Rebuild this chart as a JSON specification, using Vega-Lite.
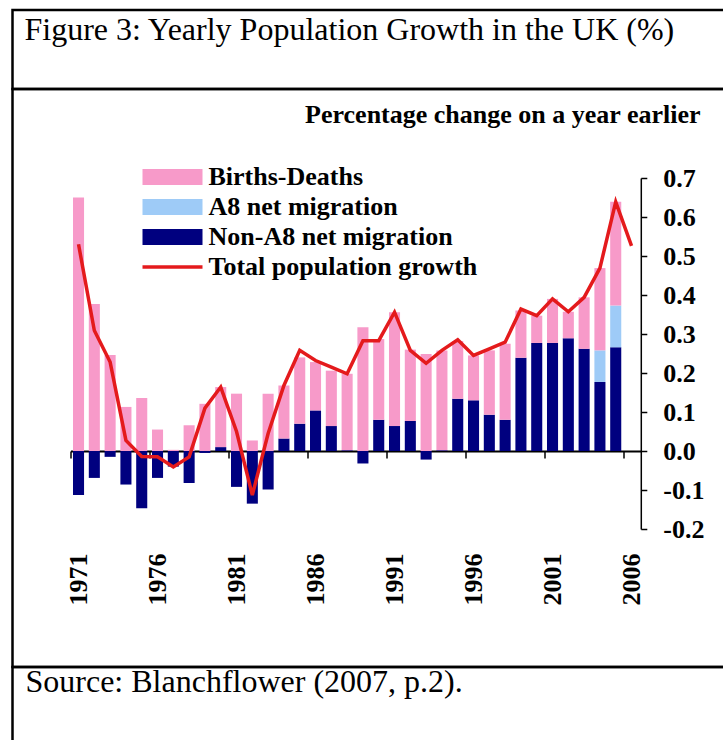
{
  "$schema": "https://vega.github.io/schema/vega-lite/v6.json",
  "padding": {"left": 8.5, "top": 6, "right": 0, "bottom": 0},
  "background": "white",
  "spacing": 0,
  "bounds": "flush",
  "config": {
    "view": {"stroke": "black", "strokeWidth": 2.5},
    "font": "Liberation Serif"
  },
  "resolve": {
    "scale": {"fill": "independent", "stroke": "independent", "x": "independent", "y": "independent"},
    "legend": {"fill": "independent", "stroke": "independent"}
  },
  "datasets": {
    "bars": [
      {"year": 1971, "component": "Non-A8 net migration", "ord": 1, "value": -0.113},
      {"year": 1971, "component": "Births-Deaths", "ord": 3, "value": 0.65},
      {"year": 1972, "component": "Non-A8 net migration", "ord": 1, "value": -0.069},
      {"year": 1972, "component": "Births-Deaths", "ord": 3, "value": 0.377},
      {"year": 1973, "component": "Non-A8 net migration", "ord": 1, "value": -0.015},
      {"year": 1973, "component": "Births-Deaths", "ord": 3, "value": 0.246},
      {"year": 1974, "component": "Non-A8 net migration", "ord": 1, "value": -0.086},
      {"year": 1974, "component": "Births-Deaths", "ord": 3, "value": 0.113},
      {"year": 1975, "component": "Non-A8 net migration", "ord": 1, "value": -0.147},
      {"year": 1975, "component": "Births-Deaths", "ord": 3, "value": 0.136},
      {"year": 1976, "component": "Non-A8 net migration", "ord": 1, "value": -0.069},
      {"year": 1976, "component": "Births-Deaths", "ord": 3, "value": 0.055},
      {"year": 1977, "component": "Non-A8 net migration", "ord": 1, "value": -0.04},
      {"year": 1977, "component": "Births-Deaths", "ord": 3, "value": 0.003},
      {"year": 1978, "component": "Non-A8 net migration", "ord": 1, "value": -0.082},
      {"year": 1978, "component": "Births-Deaths", "ord": 3, "value": 0.066},
      {"year": 1979, "component": "Non-A8 net migration", "ord": 1, "value": -0.005},
      {"year": 1979, "component": "Births-Deaths", "ord": 3, "value": 0.121},
      {"year": 1980, "component": "Non-A8 net migration", "ord": 1, "value": 0.01},
      {"year": 1980, "component": "Births-Deaths", "ord": 3, "value": 0.154},
      {"year": 1981, "component": "Non-A8 net migration", "ord": 1, "value": -0.092},
      {"year": 1981, "component": "Births-Deaths", "ord": 3, "value": 0.147},
      {"year": 1982, "component": "Non-A8 net migration", "ord": 1, "value": -0.135},
      {"year": 1982, "component": "Births-Deaths", "ord": 3, "value": 0.027},
      {"year": 1983, "component": "Non-A8 net migration", "ord": 1, "value": -0.099},
      {"year": 1983, "component": "Births-Deaths", "ord": 3, "value": 0.147},
      {"year": 1984, "component": "Non-A8 net migration", "ord": 1, "value": 0.032},
      {"year": 1984, "component": "Births-Deaths", "ord": 3, "value": 0.136},
      {"year": 1985, "component": "Non-A8 net migration", "ord": 1, "value": 0.07},
      {"year": 1985, "component": "Births-Deaths", "ord": 3, "value": 0.17},
      {"year": 1986, "component": "Non-A8 net migration", "ord": 1, "value": 0.104},
      {"year": 1986, "component": "Births-Deaths", "ord": 3, "value": 0.124},
      {"year": 1987, "component": "Non-A8 net migration", "ord": 1, "value": 0.064},
      {"year": 1987, "component": "Births-Deaths", "ord": 3, "value": 0.142},
      {"year": 1988, "component": "Non-A8 net migration", "ord": 1, "value": 0.002},
      {"year": 1988, "component": "Births-Deaths", "ord": 3, "value": 0.196},
      {"year": 1989, "component": "Non-A8 net migration", "ord": 1, "value": -0.032},
      {"year": 1989, "component": "Births-Deaths", "ord": 3, "value": 0.317},
      {"year": 1990, "component": "Non-A8 net migration", "ord": 1, "value": 0.08},
      {"year": 1990, "component": "Births-Deaths", "ord": 3, "value": 0.207},
      {"year": 1991, "component": "Non-A8 net migration", "ord": 1, "value": 0.064},
      {"year": 1991, "component": "Births-Deaths", "ord": 3, "value": 0.292},
      {"year": 1992, "component": "Non-A8 net migration", "ord": 1, "value": 0.077},
      {"year": 1992, "component": "Births-Deaths", "ord": 3, "value": 0.183},
      {"year": 1993, "component": "Non-A8 net migration", "ord": 1, "value": -0.022},
      {"year": 1993, "component": "Births-Deaths", "ord": 3, "value": 0.249},
      {"year": 1994, "component": "Non-A8 net migration", "ord": 1, "value": 0.002},
      {"year": 1994, "component": "Births-Deaths", "ord": 3, "value": 0.256},
      {"year": 1995, "component": "Non-A8 net migration", "ord": 1, "value": 0.134},
      {"year": 1995, "component": "Births-Deaths", "ord": 3, "value": 0.148},
      {"year": 1996, "component": "Non-A8 net migration", "ord": 1, "value": 0.13},
      {"year": 1996, "component": "Births-Deaths", "ord": 3, "value": 0.115},
      {"year": 1997, "component": "Non-A8 net migration", "ord": 1, "value": 0.093},
      {"year": 1997, "component": "Births-Deaths", "ord": 3, "value": 0.165},
      {"year": 1998, "component": "Non-A8 net migration", "ord": 1, "value": 0.08},
      {"year": 1998, "component": "Births-Deaths", "ord": 3, "value": 0.195},
      {"year": 1999, "component": "Non-A8 net migration", "ord": 1, "value": 0.239},
      {"year": 1999, "component": "Births-Deaths", "ord": 3, "value": 0.121},
      {"year": 2000, "component": "Non-A8 net migration", "ord": 1, "value": 0.277},
      {"year": 2000, "component": "Births-Deaths", "ord": 3, "value": 0.07},
      {"year": 2001, "component": "Non-A8 net migration", "ord": 1, "value": 0.277},
      {"year": 2001, "component": "Births-Deaths", "ord": 3, "value": 0.113},
      {"year": 2002, "component": "Non-A8 net migration", "ord": 1, "value": 0.289},
      {"year": 2002, "component": "Births-Deaths", "ord": 3, "value": 0.068},
      {"year": 2003, "component": "Non-A8 net migration", "ord": 1, "value": 0.262},
      {"year": 2003, "component": "Births-Deaths", "ord": 3, "value": 0.132},
      {"year": 2004, "component": "Non-A8 net migration", "ord": 1, "value": 0.177},
      {"year": 2004, "component": "A8 net migration", "ord": 2, "value": 0.081},
      {"year": 2004, "component": "Births-Deaths", "ord": 3, "value": 0.211},
      {"year": 2005, "component": "Non-A8 net migration", "ord": 1, "value": 0.266},
      {"year": 2005, "component": "A8 net migration", "ord": 2, "value": 0.107},
      {"year": 2005, "component": "Births-Deaths", "ord": 3, "value": 0.266}
    ],
    "total": [
      {"year": 1971, "series": "Total population growth", "total": 0.53},
      {"year": 1972, "series": "Total population growth", "total": 0.309},
      {"year": 1973, "series": "Total population growth", "total": 0.228},
      {"year": 1974, "series": "Total population growth", "total": 0.027},
      {"year": 1975, "series": "Total population growth", "total": -0.014},
      {"year": 1976, "series": "Total population growth", "total": -0.015},
      {"year": 1977, "series": "Total population growth", "total": -0.041},
      {"year": 1978, "series": "Total population growth", "total": -0.015},
      {"year": 1979, "series": "Total population growth", "total": 0.11},
      {"year": 1980, "series": "Total population growth", "total": 0.164},
      {"year": 1981, "series": "Total population growth", "total": 0.05},
      {"year": 1982, "series": "Total population growth", "total": -0.113},
      {"year": 1983, "series": "Total population growth", "total": 0.045},
      {"year": 1984, "series": "Total population growth", "total": 0.168},
      {"year": 1985, "series": "Total population growth", "total": 0.258},
      {"year": 1986, "series": "Total population growth", "total": 0.232},
      {"year": 1987, "series": "Total population growth", "total": 0.215},
      {"year": 1988, "series": "Total population growth", "total": 0.198},
      {"year": 1989, "series": "Total population growth", "total": 0.283},
      {"year": 1990, "series": "Total population growth", "total": 0.283},
      {"year": 1991, "series": "Total population growth", "total": 0.356},
      {"year": 1992, "series": "Total population growth", "total": 0.258},
      {"year": 1993, "series": "Total population growth", "total": 0.225},
      {"year": 1994, "series": "Total population growth", "total": 0.258},
      {"year": 1995, "series": "Total population growth", "total": 0.285},
      {"year": 1996, "series": "Total population growth", "total": 0.245},
      {"year": 1997, "series": "Total population growth", "total": 0.262},
      {"year": 1998, "series": "Total population growth", "total": 0.279},
      {"year": 1999, "series": "Total population growth", "total": 0.364},
      {"year": 2000, "series": "Total population growth", "total": 0.347},
      {"year": 2001, "series": "Total population growth", "total": 0.39},
      {"year": 2002, "series": "Total population growth", "total": 0.357},
      {"year": 2003, "series": "Total population growth", "total": 0.394},
      {"year": 2004, "series": "Total population growth", "total": 0.469},
      {"year": 2005, "series": "Total population growth", "total": 0.639},
      {"year": 2006, "series": "Total population growth", "total": 0.526}
    ]
  },
  "vconcat": [
    {
      "width": 720,
      "height": 79,
      "title": {
        "text": "Figure 3: Yearly Population Growth in the UK (%)",
        "orient": "top", "anchor": "start", "frame": "group",
        "offset": -33, "dx": 12, "dy": 32,
        "font": "Liberation Serif", "fontSize": 32, "fontWeight": "normal",
        "baseline": "alphabetic", "color": "black"
      },
      "data": {"values": [{}]},
      "mark": {"type": "point", "opacity": 0},
      "encoding": {
        "x": {"datum": 0, "type": "quantitative", "axis": null},
        "y": {"datum": 0, "type": "quantitative", "axis": null}
      }
    },
    {
      "width": 720,
      "height": 578,
      "title": {
        "text": "Percentage change on a year earlier",
        "orient": "top", "anchor": "end", "frame": "group",
        "offset": -34, "dx": -32, "dy": 26,
        "font": "Liberation Serif", "fontSize": 26, "fontWeight": "bold",
        "baseline": "alphabetic", "color": "black"
      },
      "layer": [
        {
          "data": {"name": "bars"},
          "mark": {"type": "bar"},
          "encoding": {
            "x": {
              "field": "year", "type": "ordinal",
              "scale": {
                "domain": [1971,1972,1973,1974,1975,1976,1977,1978,1979,1980,1981,1982,1983,1984,1985,1986,1987,1988,1989,1990,1991,1992,1993,1994,1995,1996,1997,1998,1999,2000,2001,2002,2003,2004,2005,2006],
                "range": [58, 628.3],
                "paddingInner": 0.3, "paddingOuter": 0.1975, "align": 0.4, "round": false
              },
              "axis": {
                "orient": "bottom", "offset": -216, "title": null,
                "labels": false, "grid": false,
                "domain": true, "domainColor": "black", "domainWidth": 2,
                "ticks": true, "tickColor": "black", "tickWidth": 1.5, "tickSize": 7,
                "bandPosition": -0.2,
                "values": [1971,1976,1981,1986,1991,1996,2001,2006]
              }
            },
            "y": {
              "field": "value", "type": "quantitative", "stack": "zero",
              "scale": {"domain": [-0.2, 0.7], "range": [440, 89], "nice": false, "zero": false},
              "axis": {
                "orient": "right", "offset": -91.7, "title": null, "grid": false,
                "values": [-0.2,-0.1,0,0.1,0.2,0.3,0.4,0.5,0.6,0.7],
                "labelExpr": "replace(format(datum.value, '.1f'), '\u2212', '-')",
                "domainColor": "black", "domainWidth": 1.5,
                "tickColor": "black", "tickWidth": 1.5, "tickSize": 6,
                "labelPadding": 16, "labelFont": "Liberation Serif", "labelFontSize": 26,
                "labelFontWeight": "bold", "labelColor": "black"
              }
            },
            "fill": {
              "field": "component", "type": "nominal",
              "scale": {
                "domain": ["Births-Deaths", "A8 net migration", "Non-A8 net migration"],
                "range": ["#F79AC9", "#9ECBF7", "#00007F"]
              },
              "legend": {
                "title": null, "orient": "none", "legendX": 147, "legendY": 75,
                "padding": 0,
                "symbolType": "M-3,-0.8H3V0.8H-3Z", "symbolSize": 400,
                "symbolStrokeWidth": 0, "symbolOpacity": 1,
                "labelOffset": 23, "labelFont": "Liberation Serif", "labelFontSize": 26,
                "labelFontWeight": "bold", "labelColor": "black", "rowPadding": 4,
                "labelLimit": 400
              }
            },
            "order": {"field": "ord", "type": "quantitative"}
          }
        },
        {
          "data": {"name": "total"},
          "mark": {"type": "line", "strokeWidth": 3.5, "strokeJoin": "miter"},
          "encoding": {
            "x": {
              "field": "year", "type": "ordinal",
              "axis": {
                "orient": "bottom", "offset": -114, "title": null,
                "domain": false, "ticks": false, "grid": false,
                "labelAngle": -90, "labelPadding": 0,
                "labelFont": "Liberation Serif", "labelFontSize": 26,
                "labelFontWeight": "bold", "labelColor": "black",
                "values": [1971,1976,1981,1986,1991,1996,2001,2006]
              }
            },
            "y": {"field": "total", "type": "quantitative"},
            "stroke": {
              "field": "series", "type": "nominal",
              "scale": {"domain": ["Total population growth"], "range": ["#E41A1C"]},
              "legend": {
                "title": null, "orient": "none", "legendX": 147, "legendY": 165,
                "padding": 0,
                "symbolType": "M-3,0H3", "symbolSize": 400, "symbolStrokeWidth": 3.5,
                "labelOffset": 23, "labelFont": "Liberation Serif", "labelFontSize": 26,
                "labelFontWeight": "bold", "labelColor": "black", "labelLimit": 400
              }
            }
          }
        }
      ],
      "resolve": {"axis": {"x": "independent"}}
    },
    {
      "width": 720,
      "height": 90,
      "title": {
        "text": "Source: Blanchflower (2007, p.2).",
        "orient": "top", "anchor": "start", "frame": "group",
        "offset": -30, "dx": 13, "dy": 30,
        "font": "Liberation Serif", "fontSize": 32, "fontWeight": "normal",
        "baseline": "alphabetic", "color": "black"
      },
      "data": {"values": [{}]},
      "mark": {"type": "point", "opacity": 0},
      "encoding": {
        "x": {"datum": 0, "type": "quantitative", "axis": null},
        "y": {"datum": 0, "type": "quantitative", "axis": null}
      }
    }
  ]
}
